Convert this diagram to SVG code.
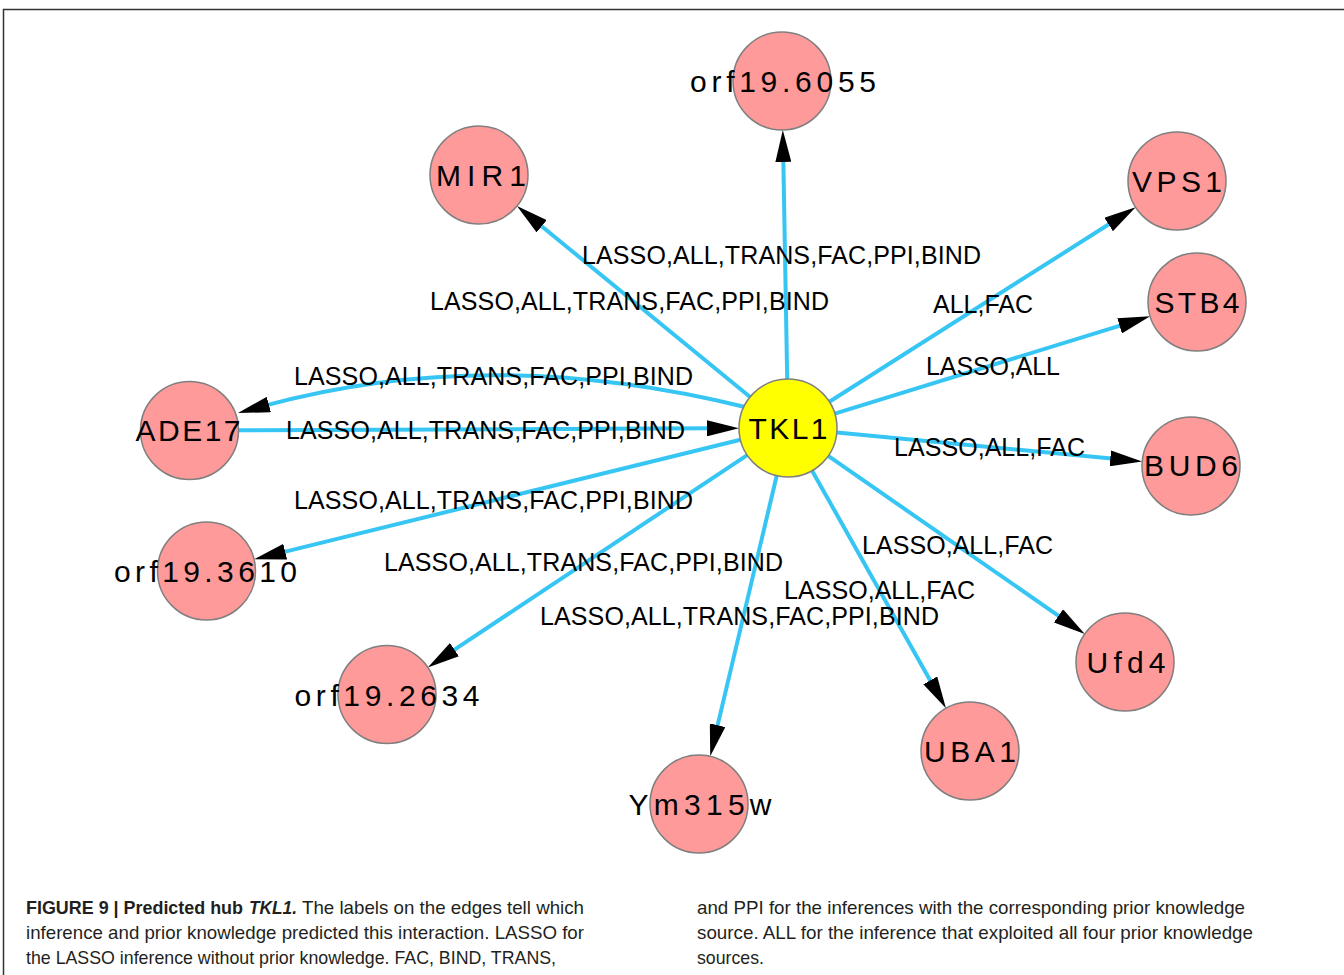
<svg xmlns="http://www.w3.org/2000/svg" width="1344" height="975" viewBox="0 0 1344 975">
<style>
.edge{fill:none;stroke:#37c6f4;stroke-width:4;marker-end:url(#arr)}
.node{fill:#ff9a9a;stroke:#7f7f7f;stroke-width:1.5}
.hub{fill:#ffff00;stroke:#7f7f7f;stroke-width:1.5}
.nl{font-family:"Liberation Sans",Arial,sans-serif;font-size:30px;fill:#000;text-anchor:middle}
.el{font-family:"Liberation Sans",Arial,sans-serif;font-size:25px;fill:#000}
.cap{font-family:"Liberation Sans",Arial,sans-serif;font-size:19px;fill:#231f20}
.b{font-weight:bold;font-size:17.5px}
.bi{font-weight:bold;font-style:italic;font-size:18px}
</style>
<defs>
<marker id="arr" markerUnits="userSpaceOnUse" markerWidth="32" markerHeight="16" viewBox="0 0 32 16" refX="4" refY="8" orient="auto">
<path d="M0,0 L32,8 L0,16 Z" fill="#000"/>
</marker>
</defs>
<rect width="1344" height="975" fill="#fff"/>
<path d="M3.5,975 V9.5 H1344" fill="none" stroke="#333" stroke-width="1.5"/>

<g id="edges">
<line class="edge" x1="787.2" y1="379" x2="783.3" y2="158"/>
<line class="edge" x1="750.1" y1="397" x2="538.6" y2="223.7"/>
<line class="edge" x1="829.4" y1="401.7" x2="1112" y2="222.3"/>
<line class="edge" x1="834.8" y1="413.6" x2="1123.4" y2="324.6"/>
<line class="edge" x1="836.8" y1="432.6" x2="1114.3" y2="458.8"/>
<line class="edge" x1="828.2" y1="455.9" x2="1061.8" y2="618.1"/>
<line class="edge" x1="812.1" y1="470.7" x2="932.2" y2="683.9"/>
<line class="edge" x1="776.7" y1="475.7" x2="716.7" y2="729.1"/>
<line class="edge" x1="747.2" y1="455.1" x2="451.1" y2="651.9"/>
<line class="edge" x1="740.4" y1="439.7" x2="281.3" y2="552.6"/>
<line class="edge" x1="238.5" y1="430.3" x2="711" y2="428.3"/>
<path class="edge" d="M745,407 Q490,344 265,405.6"/>
</g>

<g id="edge-labels">
<text class="el" x="582" y="264" textLength="399">LASSO,ALL,TRANS,FAC,PPI,BIND</text>
<text class="el" x="430" y="310" textLength="399">LASSO,ALL,TRANS,FAC,PPI,BIND</text>
<text class="el" x="933" y="313" textLength="100">ALL,FAC</text>
<text class="el" x="926" y="375" textLength="134">LASSO,ALL</text>
<text class="el" x="294" y="385" textLength="399">LASSO,ALL,TRANS,FAC,PPI,BIND</text>
<text class="el" x="286" y="439" textLength="399">LASSO,ALL,TRANS,FAC,PPI,BIND</text>
<text class="el" x="894" y="456" textLength="191">LASSO,ALL,FAC</text>
<text class="el" x="294" y="509" textLength="399">LASSO,ALL,TRANS,FAC,PPI,BIND</text>
<text class="el" x="862" y="554" textLength="191">LASSO,ALL,FAC</text>
<text class="el" x="384" y="571" textLength="399">LASSO,ALL,TRANS,FAC,PPI,BIND</text>
<text class="el" x="784" y="599" textLength="191">LASSO,ALL,FAC</text>
<text class="el" x="540" y="625" textLength="399">LASSO,ALL,TRANS,FAC,PPI,BIND</text>
</g>

<g id="node-orf19.6055"><circle class="node" cx="782" cy="81" r="49"/><text class="nl" x="783" y="92" textLength="186" lengthAdjust="spacing">orf19.6055</text></g>
<g id="node-MIR1"><circle class="node" cx="479" cy="175" r="49"/><text class="nl" x="481" y="186" textLength="90" lengthAdjust="spacing">MIR1</text></g>
<g id="node-VPS1"><circle class="node" cx="1177" cy="181" r="49"/><text class="nl" x="1177" y="192" textLength="90" lengthAdjust="spacing">VPS1</text></g>
<g id="node-STB4"><circle class="node" cx="1197" cy="302" r="49"/><text class="nl" x="1197" y="313" textLength="85" lengthAdjust="spacing">STB4</text></g>
<g id="node-ADE17"><circle class="node" cx="189.5" cy="430.5" r="49"/><text class="nl" x="188" y="441" textLength="105" lengthAdjust="spacing">ADE17</text></g>
<g id="node-BUD6"><circle class="node" cx="1191" cy="466" r="49"/><text class="nl" x="1191" y="476" textLength="94" lengthAdjust="spacing">BUD6</text></g>
<g id="node-orf19.3610"><circle class="node" cx="206.5" cy="571" r="49"/><text class="nl" x="205.5" y="582" textLength="183" lengthAdjust="spacing">orf19.3610</text></g>
<g id="node-Ufd4"><circle class="node" cx="1125" cy="662" r="49"/><text class="nl" x="1126" y="673" textLength="79" lengthAdjust="spacing">Ufd4</text></g>
<g id="node-orf19.2634"><circle class="node" cx="387" cy="694.5" r="49"/><text class="nl" x="387" y="706" textLength="185" lengthAdjust="spacing">orf19.2634</text></g>
<g id="node-UBA1"><circle class="node" cx="970" cy="751" r="49"/><text class="nl" x="970" y="762" textLength="92" lengthAdjust="spacing">UBA1</text></g>
<g id="node-Ym315w"><circle class="node" cx="699" cy="804" r="49"/><text class="nl" x="700" y="815" textLength="143" lengthAdjust="spacing">Ym315w</text></g>
<g id="node-TKL1"><circle class="hub" cx="788" cy="428" r="49"/><text class="nl" x="788" y="439" textLength="79" lengthAdjust="spacing">TKL1</text></g>

<g id="caption">
<text class="cap b" x="26" y="914" textLength="217" lengthAdjust="spacingAndGlyphs">FIGURE 9 | Predicted hub</text>
<text class="cap bi" x="249" y="914" textLength="48" lengthAdjust="spacingAndGlyphs">TKL1.</text>
<text class="cap" x="302" y="914" textLength="282" lengthAdjust="spacingAndGlyphs">The labels on the edges tell which</text>
<text class="cap" x="26" y="939" textLength="558" lengthAdjust="spacingAndGlyphs">inference and prior knowledge predicted this interaction. LASSO for</text>
<text class="cap" x="26" y="964" textLength="530" lengthAdjust="spacingAndGlyphs">the LASSO inference without prior knowledge. FAC, BIND, TRANS,</text>
<text class="cap" x="697" y="914" textLength="548" lengthAdjust="spacingAndGlyphs">and PPI for the inferences with the corresponding prior knowledge</text>
<text class="cap" x="697" y="939" textLength="556" lengthAdjust="spacingAndGlyphs">source. ALL for the inference that exploited all four prior knowledge</text>
<text class="cap" x="697" y="964" textLength="67" lengthAdjust="spacingAndGlyphs">sources.</text>
</g>
</svg>
